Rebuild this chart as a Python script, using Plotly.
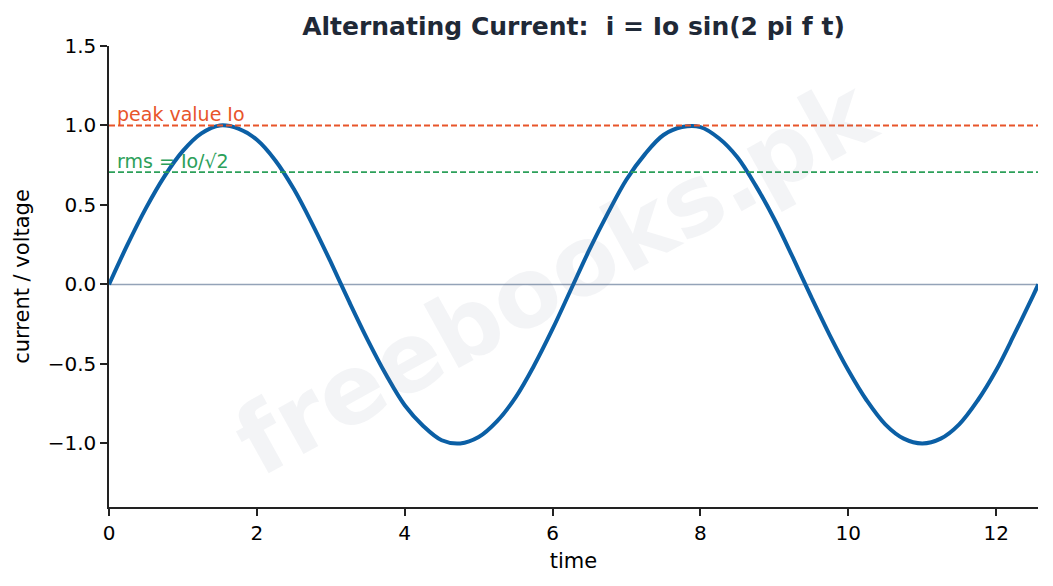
import plotly.graph_objects as go

# values
time = [0, 0.25, 0.5, 0.75, 1.0, 1.25, 1.5, 1.75, 2.0, 2.25, 2.5, 2.75, 3.0, 3.25, 3.5, 3.75,
        4.0, 4.25, 4.5, 4.75, 5.0, 5.25, 5.5, 5.75, 6.0, 6.25, 6.5, 6.75, 7.0, 7.25, 7.5, 7.75,
        8.0, 8.25, 8.5, 8.75, 9.0, 9.25, 9.5, 9.75, 10.0, 10.25, 10.5, 10.75, 11.0, 11.25, 11.5,
        11.75, 12.0, 12.25, 12.5, 12.57]
current = [0, 0.25, 0.48, 0.68, 0.84, 0.95, 1.00, 0.98, 0.91, 0.78, 0.60, 0.38, 0.14, -0.11,
           -0.35, -0.57, -0.76, -0.89, -0.98, -1.00, -0.96, -0.86, -0.71, -0.51, -0.28, -0.03,
           0.22, 0.45, 0.66, 0.82, 0.94, 0.99, 0.99, 0.92, 0.80, 0.62, 0.41, 0.17, -0.08, -0.32,
           -0.54, -0.73, -0.88, -0.97, -1.00, -0.97, -0.88, -0.73, -0.54, -0.31, -0.07, 0.0]

peak = 1.0
rms = 0.707
t_end = 12.566

fig = go.Figure()
fig.add_trace(go.Scatter(x=time, y=current, mode="lines", line_shape="spline",
                         line=dict(color="#0b5fa5", width=4), showlegend=False))

fig.add_shape(type="line", x0=0, x1=t_end, y0=0, y1=0, layer="below",
              line=dict(color="#94a3b8", width=1.5))
fig.add_shape(type="line", x0=0, x1=t_end, y0=peak, y1=peak,
              line=dict(color="#e8552a", width=1.8, dash="6px,3px"))
fig.add_shape(type="line", x0=0, x1=t_end, y0=rms, y1=rms,
              line=dict(color="#2ca05a", width=1.8, dash="6px,3px"))

fig.add_annotation(x=0.08, y=peak, text="peak value Io", showarrow=False,
                   xanchor="left", yanchor="bottom", yshift=-2,
                   font=dict(color="#e8552a", size=19))
fig.add_annotation(x=0.08, y=rms, text="rms = Io/√2", showarrow=False,
                   xanchor="left", yanchor="bottom", yshift=-2,
                   font=dict(color="#2ca05a", size=19))
fig.add_annotation(x=0.48, y=0.5, xref="paper", yref="paper", text="<b>freebooks.pk</b>",
                   showarrow=False, textangle=-29,
                   font=dict(color="rgba(100,116,139,0.08)", size=96))

fig.update_layout(
    width=1053, height=586,
    margin=dict(l=101, r=23, t=38, b=87),
    paper_bgcolor="white", plot_bgcolor="white",
    font=dict(family="DejaVu Sans", size=17.5, color="black"),
    title=dict(text="<b>Alternating Current:  i = Io sin(2 pi f t)</b>", x=0.5, xanchor="center",
               xref="paper", y=0.969, yanchor="middle", font=dict(size=25, color="#1f2937")),
)
fig.update_xaxes(range=[0, t_end], dtick=2, showgrid=False, zeroline=False,
                 showline=True, linecolor="#222222", linewidth=1.5,
                 ticks="outside", ticklen=7, tickwidth=1.5, tickcolor="#222222",
                 tickfont=dict(size=20), title=dict(text="time", standoff=10))
fig.update_yaxes(range=[-1.4, 1.5], dtick=0.5, tickformat=".1f", showgrid=False, zeroline=False,
                 showline=True, linecolor="#222222", linewidth=1.5,
                 ticks="outside", ticklen=7, tickwidth=1.5, tickcolor="#222222",
                 tickfont=dict(size=20), title=dict(text="current / voltage", standoff=12))

fig.write_html("out.html")
